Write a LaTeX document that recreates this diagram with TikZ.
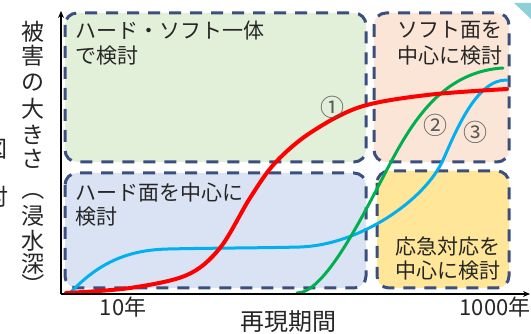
\documentclass[tikz,border=0pt]{standalone}
\usepackage{fontspec}
\setmainfont{Noto Sans CJK JP}
\usetikzlibrary{arrows.meta}
\definecolor{bord}{HTML}{3B4F7E}
\definecolor{txt}{HTML}{262626}
\definecolor{fgreen}{HTML}{E2EFD9}
\definecolor{fpeach}{HTML}{FBE5D6}
\definecolor{fblue}{HTML}{DAE3F3}
\definecolor{fyellow}{HTML}{FFE699}
\definecolor{cred}{HTML}{FF0000}
\definecolor{cgreen}{HTML}{00B050}
\definecolor{cblue}{HTML}{00B0F0}
\definecolor{numgray}{HTML}{595959}
\definecolor{teal}{HTML}{8FD0D8}
\begin{document}
\begin{tikzpicture}[x=1pt,y=-1pt,
  zone/.style={draw=bord, line width=3pt, dash pattern=on 12pt off 9pt, rounded corners=12pt},
  lbl/.style={text=txt, font=\fontsize{21}{25}\selectfont, inner sep=0pt},
  axlbl/.style={text=txt, font=\fontsize{22}{26}\selectfont, inner sep=0pt},
  ylbl/.style={text=txt, font=\fontsize{23}{26}\selectfont, inner sep=0pt},
  num/.style={text=numgray, font=\fontsize{24}{26}\selectfont, inner sep=0pt},
  curve/.style={line width=3pt, line cap=round, line join=round}]
\useasboundingbox (0,0) rectangle (531,334);
\fill[white] (0,0) rectangle (531,334);
\begin{scope}
\clip (0,0) rectangle (531,334);
% top-right teal triangle
\fill[teal] (514,3) -- (531,3) -- (531,19) -- cycle;
% partial characters cut at left edge
\node[ylbl] (cutA) at (-4,149) {図};
\node[ylbl] (cutB) at (-2.5,197) {討};
% boxes
\path[fill=fgreen, rounded corners=12pt] (65,13) rectangle (366,162);
\path[fill=fpeach, rounded corners=12pt] (374,13) rectangle (509,162);
\path[fill=fblue, rounded corners=12pt] (65,173) rectangle (366,288);
\path[fill=fyellow, rounded corners=12pt] (377,171) rectangle (509,288);
\draw[zone] (65,13) rectangle (366,162);
\draw[zone] (374,13) rectangle (509,162);
\draw[zone] (65,173) rectangle (366,288);
\draw[zone] (377,171) rectangle (509,288);
% box texts
\node[lbl, anchor=west] (g1) at (75,31) {ハード・ソフト一体};
\node[lbl, anchor=west] (g2) at (75,56) {で検討};
\node[lbl, anchor=east] (p1) at (503,30) {ソフト面を};
\node[lbl, anchor=east] (p2) at (503,56) {中心に検討};
\node[lbl, anchor=west] (b1) at (75,193) {ハード面を中心に};
\node[lbl, anchor=west] (b2) at (75,217) {検討};
\node[lbl, anchor=east] (y1) at (501,246) {応急対応を};
\node[lbl, anchor=east] (y2) at (501,271) {中心に検討};
% curves
\draw[curve, cblue] (70,293) .. controls (95,267) and (122,250) .. (168,249)
  .. controls (210,248) and (262,248) .. (300,247)
  .. controls (360,245) and (425,200) .. (443,160)
  .. controls (455,133.6) and (476,79) .. (507,80);
\draw[curve, cgreen] (297,293) .. controls (322,293) and (355,231) .. (380,183)
  .. controls (405,135) and (435,72) .. (503,68);
\draw[curve, cred, line width=4pt] plot[smooth, tension=0.55] coordinates {(66,293) (130,288) (187,275) (220,248) (250,198) (275,163) (310,133) (360,107) (427,95) (507,89)};
% circled numbers
\node[num] (n1) at (332,107) {①};
\node[num] (n2) at (435,125) {②};
\node[num] (n3) at (475,132) {③};
% axes
\coordinate (O) at (61,294);
\coordinate (Ytop) at (61,11);
\coordinate (Xend) at (530,294);
\draw[line width=2pt, -{Stealth[length=7pt,width=6pt]}] (O) -- (Ytop);
\draw[line width=2pt, -{Stealth[length=7pt,width=6pt]}] (O) -- (Xend);
% axis labels
\node[axlbl] (x10) at (123,307) {10年};
\node[axlbl] (x1000) at (495,307) {1000年};
\node[axlbl, font=\fontsize{24}{26}\selectfont] (xname) at (288,322) {再現期間};
\foreach \c/\yy [count=\i] in {被/31.5,害/56,の/83,大/109,き/135,さ/159,浸/216,水/241,深/264}{
  \node[ylbl] (yl\i) at (33,\yy) {\c};
}
\node[ylbl, rotate=-90] (ylpa) at (33,189) {（};
\node[ylbl, rotate=-90] (ylpb) at (33,285) {）};
\end{scope}
\end{tikzpicture}
\end{document}
